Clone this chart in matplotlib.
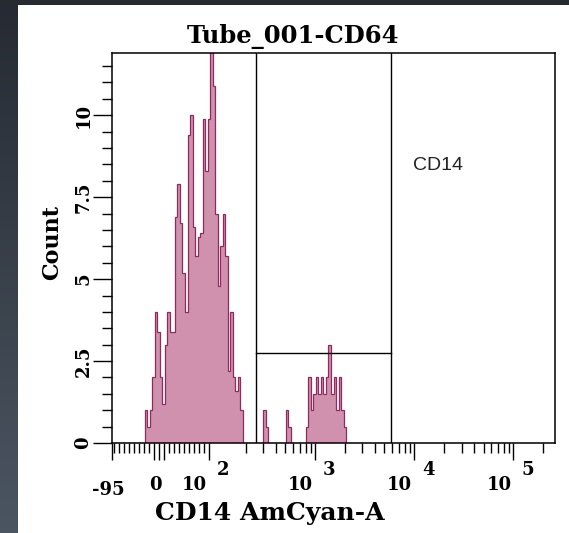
import numpy as np
import matplotlib
matplotlib.use("Agg")
import matplotlib.pyplot as plt

# histogram: 176 display channels from -95 to 262144, counts per channel
n_channels = 176
x_min, x_max = -95, 262144
first_channel = 13
counts = [
    # left population (channels 13-51)
    1.0, 0.5, 1.0, 2.0, 4.0, 3.4, 2.0, 1.2, 3.0, 4.0,
    3.4, 3.4, 6.9, 7.9, 6.7, 5.2, 4.0, 9.4, 10.0, 6.6,
    5.7, 6.3, 6.4, 9.9, 8.3, 9.9, 12.2, 10.9, 7.0, 4.8,
    6.0, 7.0, 5.7, 2.2, 4.0, 2.0, 1.6, 2.0, 1.0,
    # gap + two small spikes
    0, 0, 0, 0, 0, 0, 0, 0, 1.0, 0.5,
    0, 0, 0, 0, 0, 0, 0, 1.0, 0.5,
    0, 0, 0, 0, 0, 0,
    # right population (channels 77-92)
    0.5, 2.0, 1.0, 1.5, 2.0, 1.5, 2.0, 1.5, 2.0, 3.0,
    1.5, 2.0, 1.0, 2.0, 1.0, 0.5,
]

gate_x = [253, 5760]
gate_y = 2.75
gate_label = "CD14"

y_major = [0, 2.5, 5, 7.5, 10]
y_major_labels = ["0", "2.5", "5", "7.5", "10"]
x_major = [-95, -10, 0, 10, 100, 1000, 10000, 100000]
x_minor = ([v for v in range(-90, 0, 10) if v != -10] + [v for v in range(20, 100, 10)]
           + [m * 10 ** k for k in (2, 3, 4) for m in range(2, 10)] + [200000])
decades = [2, 3, 4, 5]

serif = "DejaVu Serif"
fill_col = "#cf91ae"
edge_col = "#8e2a5d"

fig = plt.figure(figsize=(5.69, 5.33), dpi=100, facecolor="white")

# dark screenshot frame (left strip gradient, top strip)
bg = fig.add_axes([0, 0, 18 / 569, 1])
bg.imshow(np.linspace(0, 1, 100).reshape(-1, 1), aspect="auto",
          cmap=matplotlib.colors.LinearSegmentedColormap.from_list("f", ["#262b33", "#4b5561"]),
          extent=[0, 1, 0, 1], origin="upper")
bg.axis("off")
top = fig.add_axes([0, 1 - 5 / 533, 1, 5 / 533])
top.set_facecolor("#262b32")
top.set_xticks([]); top.set_yticks([])
for s in top.spines.values():
    s.set_visible(False)

ax = fig.add_axes([112 / 569, 90 / 533, 443 / 569, 390 / 533])
ax.set_xscale("symlog", linthresh=150, linscale=0.675)
ax.set_xlim(x_min, x_max)
ax.set_ylim(0, 11.9)

# channel edges: uniform in display (scale) space
tr = ax.xaxis.get_transform()
t0, t1 = tr.transform([x_min, x_max])
edges = tr.inverted().transform(np.linspace(t0, t1, n_channels + 1))
full = np.zeros(n_channels)
full[first_channel:first_channel + len(counts)] = counts
ax.stairs(full, edges, fill=True, color=fill_col, lw=0)
ax.stairs(full, edges, color=edge_col, lw=0.9)

# gates
for g in gate_x:
    ax.axvline(g, color="black", lw=1.0)
ax.plot(gate_x, [gate_y, gate_y], color="black", lw=1.0)
ax.text(0.68, 0.70, gate_label, transform=ax.transAxes, fontsize=14,
        family="Liberation Sans", color="#222222")

for s in ax.spines.values():
    s.set_linewidth(1.1)
    s.set_zorder(3)

ax.set_yticks(y_major, labels=y_major_labels)
ax.set_yticks(np.arange(0.5, 12, 0.5), minor=True)
ax.tick_params(axis="y", which="major", length=14, width=1.0, pad=0, labelrotation=90,
               labelsize=13)
ax.tick_params(axis="y", which="minor", length=7, width=1.0)
for lab in ax.get_yticklabels():
    lab.set_fontfamily(serif)
    lab.set_fontweight("bold")
    lab.set_va("center")

ax.set_xticks(x_major, labels=[""] * len(x_major))
ax.set_xticks(x_minor, minor=True)
ax.xaxis.set_minor_formatter(matplotlib.ticker.NullFormatter())
ax.tick_params(axis="x", which="major", length=12, width=1.0)
ax.tick_params(axis="x", which="minor", length=7, width=1.0)

lab_kw = dict(xycoords=("data", "axes fraction"), textcoords="offset points",
              fontsize=13, fontweight="bold", family=serif, va="baseline")
ax.annotate("-95", (x_min, 0), xytext=(-3, -37.5), ha="center", **lab_kw)
ax.annotate("0", (0, 0), xytext=(-2.5, -34), ha="center", **lab_kw)
for k in decades:
    ax.annotate("10", (10 ** k, 0), xytext=(-1.5, -34), ha="right", **lab_kw)
    ax.annotate(str(k), (10 ** k, 0), xytext=(5.5, -23), ha="left", **lab_kw)

fig.text(293 / 569, (533 - 43) / 533, "Tube_001-CD64", ha="center", va="baseline",
         fontsize=17.5, fontweight="bold", family=serif)
fig.text(270 / 569, (533 - 520) / 533, "CD14 AmCyan-A", ha="center", va="baseline",
         fontsize=18, fontweight="bold", family=serif)
fig.text(52 / 569, (533 - 243) / 533, "Count", ha="center", va="center", rotation=90,
         fontsize=16, fontweight="bold", family=serif)

fig.savefig("out.png", dpi=100, facecolor="white")
